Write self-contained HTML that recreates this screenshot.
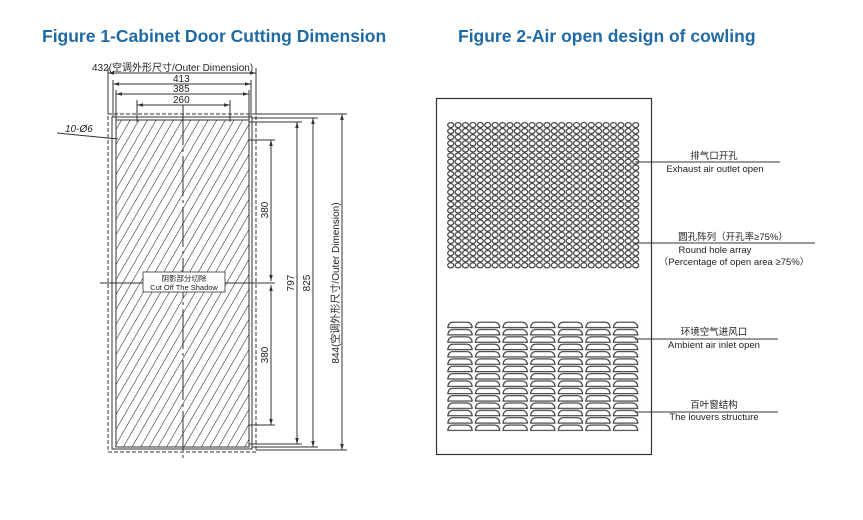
<!DOCTYPE html>
<html><head><meta charset="utf-8"><style>
body{margin:0;background:#fff;width:863px;height:520px;overflow:hidden}
svg{display:block}
.t{font-family:"Liberation Sans","Noto Sans CJK SC",sans-serif;fill:#222}
</style></head><body>
<svg width="863" height="520" viewBox="0 0 863 520" xmlns="http://www.w3.org/2000/svg">
<defs>
<pattern id="hatch" patternUnits="userSpaceOnUse" width="7.5" height="9" patternTransform="rotate(30)">
<line x1="0" y1="0" x2="0" y2="9" stroke="#222" stroke-width="1.1"/>
</pattern>
<pattern id="holes" patternUnits="userSpaceOnUse" x="447" y="122" width="7.4" height="6.1">
<ellipse cx="3.7" cy="3.05" rx="3" ry="2.5" fill="none" stroke="#333" stroke-width="1.1"/>
</pattern>
<pattern id="louv" patternUnits="userSpaceOnUse" x="447" y="321" width="27.6" height="7.35">
<path d="M0.8,6.5 Q1.5,1.2 6,1.2 L19.5,1.2 Q24.5,1.2 25.2,6.5 Z" fill="none" stroke="#333" stroke-width="1.1"/>
</pattern>
<marker id="a" viewBox="0 0 10 10" refX="10" refY="5" markerWidth="6" markerHeight="6" orient="auto-start-reverse"><path d="M0,2 L10,5 L0,8 z" fill="#333"/></marker>
</defs>
<text class="t" x="42" y="42" style="font-size:17.5px;font-weight:bold;fill:#1f6aa5">Figure 1-Cabinet Door Cutting Dimension</text>
<text class="t" x="458" y="42" style="font-size:17.5px;font-weight:bold;fill:#1f6aa5">Figure 2-Air open design of cowling</text>

<!-- Figure 1 -->
<g stroke="#333" fill="none" stroke-width="1">
<rect x="108" y="114" width="148" height="338" stroke-dasharray="4,2"/>
<rect x="112" y="117" width="140" height="332"/>
<rect x="116" y="120" width="133" height="327" fill="url(#hatch)"/>
<rect x="116" y="120" width="133" height="327"/>
<line x1="183" y1="105" x2="183" y2="458" stroke-dasharray="40,4,3,4"/>
<line x1="100" y1="283" x2="275" y2="283"/>
<line x1="108" y1="68" x2="108" y2="114"/><line x1="256" y1="68" x2="256" y2="114"/>
<line x1="113" y1="80" x2="113" y2="117"/><line x1="251" y1="80" x2="251" y2="117"/>
<line x1="116" y1="90" x2="116" y2="120"/><line x1="249" y1="90" x2="249" y2="120"/>
<line x1="137" y1="100" x2="137" y2="122"/><line x1="230" y1="100" x2="230" y2="122"/>
<line x1="108" y1="73" x2="256" y2="73" marker-start="url(#a)" marker-end="url(#a)"/>
<line x1="113" y1="84" x2="251" y2="84" marker-start="url(#a)" marker-end="url(#a)"/>
<line x1="116" y1="94" x2="249" y2="94" marker-start="url(#a)" marker-end="url(#a)"/>
<line x1="137" y1="105" x2="230" y2="105" marker-start="url(#a)" marker-end="url(#a)"/>
<line x1="256" y1="114" x2="347" y2="114"/><line x1="252" y1="118" x2="318" y2="118"/>
<line x1="249" y1="122" x2="302" y2="122"/><line x1="249" y1="140" x2="275" y2="140"/>
<line x1="249" y1="425" x2="275" y2="425"/><line x1="249" y1="444" x2="302" y2="444"/>
<line x1="252" y1="447" x2="318" y2="447"/><line x1="256" y1="450" x2="347" y2="450"/>
<line x1="271" y1="140" x2="271" y2="281" marker-start="url(#a)" marker-end="url(#a)"/>
<line x1="271" y1="285" x2="271" y2="425" marker-start="url(#a)" marker-end="url(#a)"/>
<line x1="297" y1="122" x2="297" y2="444" marker-start="url(#a)" marker-end="url(#a)"/>
<line x1="313" y1="118" x2="313" y2="447" marker-start="url(#a)" marker-end="url(#a)"/>
<line x1="342" y1="114" x2="342" y2="450" marker-start="url(#a)" marker-end="url(#a)"/>
<line x1="57" y1="133" x2="118" y2="139"/>
</g>
<text class="t" x="92" y="71" style="font-size:10px">432(空调外形尺寸/Outer Dimension)</text>
<text class="t" x="173" y="82" style="font-size:10px">413</text>
<text class="t" x="173" y="92" style="font-size:10px">385</text>
<text class="t" x="173" y="103" style="font-size:10px">260</text>
<text class="t" x="65" y="132" style="font-size:10px;font-style:italic">10-Ø6</text>
<rect x="143" y="272" width="82" height="20" fill="#fff" stroke="#333" stroke-width="0.8"/>
<text class="t" x="184" y="281" text-anchor="middle" style="font-size:7.5px">阴影部分切除</text>
<text class="t" x="184" y="290" text-anchor="middle" style="font-size:7.5px">Cut Off The Shadow</text>
<text class="t" transform="translate(268,210) rotate(-90)" text-anchor="middle" style="font-size:10px">380</text>
<text class="t" transform="translate(268,355) rotate(-90)" text-anchor="middle" style="font-size:10px">380</text>
<text class="t" transform="translate(294,283) rotate(-90)" text-anchor="middle" style="font-size:10px">797</text>
<text class="t" transform="translate(310,283) rotate(-90)" text-anchor="middle" style="font-size:10px">825</text>
<text class="t" transform="translate(339,283) rotate(-90)" text-anchor="middle" style="font-size:10px">844(空调外形尺寸/Outer Dimension)</text>

<!-- Figure 2 -->
<rect x="436.5" y="98.5" width="215" height="356" fill="none" stroke="#333" stroke-width="1.2"/>
<rect x="447" y="122" width="192.4" height="146.4" fill="url(#holes)"/>
<rect x="447" y="321" width="193.2" height="110.25" fill="url(#louv)"/>
<g stroke="#333" stroke-width="1">
<line x1="635" y1="162" x2="780" y2="162"/>
<line x1="635" y1="243" x2="815" y2="243"/>
<line x1="635" y1="339" x2="778" y2="339"/>
<line x1="635" y1="412" x2="778" y2="412"/>
</g>
<g class="t" style="font-size:9.5px" text-anchor="middle">
<text x="714" y="159">排气口开孔</text>
<text x="715" y="172">Exhaust air outlet open</text>
<text x="733" y="240">圆孔阵列（开孔率≥75%）</text>
<text x="715" y="253">Round hole array</text>
<text x="734" y="265">（Percentage of open area ≥75%）</text>
<text x="714" y="335">环境空气进风口</text>
<text x="714" y="348">Ambient air inlet open</text>
<text x="714" y="408">百叶窗结构</text>
<text x="714" y="420">The louvers structure</text>
</g>
</svg>
</body></html>
